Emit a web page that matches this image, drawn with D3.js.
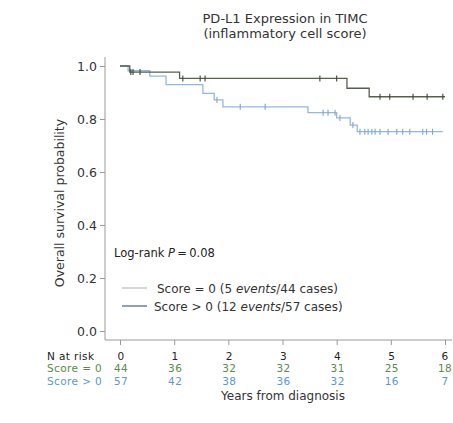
<!DOCTYPE html>
<html>
<head>
<meta charset="utf-8">
<script src="https://cdn.jsdelivr.net/npm/d3@7"></script>
<style>
  html, body { margin: 0; padding: 0; background: #fff; }
  svg { display: block; font-family: "DejaVu Sans", "Liberation Sans", Arial, sans-serif; }
</style>
</head>
<body>
<svg id="chart" width="453" height="423"></svg>
<script>
// Kaplan-Meier survival by PD-L1 inflammatory cell score
const years = [0, 1, 2, 3, 4, 5, 6];
const yTicks = [0, 0.2, 0.4, 0.6, 0.8, 1.0];

// Score = 0: step times and survival after each step
const timesZero = [0, 0.18, 1.10, 4.19, 4.60, 6.0];
const survZero  = [1, 0.977, 0.953, 0.916, 0.884, 0.884];
const censorZero = [0.20, 0.24, 0.37, 1.16, 1.48, 1.57, 3.69, 4.00, 4.80, 4.98, 5.41, 5.67, 5.96];

// Score > 0
const timesPos = [0, 0.15, 0.55, 0.85, 1.53, 1.74, 1.90, 3.47, 4.00, 4.25, 4.38, 5.96];
const survPos  = [1, 0.982, 0.962, 0.930, 0.897, 0.872, 0.846, 0.824, 0.804, 0.777, 0.752, 0.752];
const censorPos = [1.79, 2.22, 2.68, 3.75, 3.84, 3.97, 4.06, 4.30, 4.43, 4.52, 4.58, 4.65, 4.71,
                   4.80, 4.95, 5.11, 5.22, 5.35, 5.59, 5.66, 5.77];

// Numbers at risk
const riskZero = [44, 36, 32, 32, 31, 25, 18];
const riskPos  = [57, 42, 38, 36, 32, 16, 7];

const colZero = "#56604f";
const colPos = "#93b8de";
const colZeroText = "#5c8a4c";
const colPosText = "#5a97d2";
const textCol = "#333";

const svg = d3.select("#chart");
const x = d3.scaleLinear().domain([0, 6]).range([120, 445]);
const y = d3.scaleLinear().domain([0, 1]).range([331, 66]);

// Title
svg.append("text").attr("x", 285).attr("y", 23).attr("text-anchor", "middle")
  .attr("font-size", 13).attr("fill", textCol).text("PD-L1 Expression in TIMC");
svg.append("text").attr("x", 285).attr("y", 38).attr("text-anchor", "middle")
  .attr("font-size", 13).attr("fill", textCol).text("(inflammatory cell score)");

// Axes
const axisCol = "#9a9a9a";
const yAxis = svg.append("g").attr("transform", "translate(105,0)")
  .call(d3.axisLeft(y).tickValues(yTicks).tickFormat(d3.format(".1f")).tickSize(5).tickSizeOuter(0));
yAxis.select(".domain").attr("d", "M0,57V340").attr("stroke", axisCol);
yAxis.selectAll(".tick line").attr("stroke", axisCol);
yAxis.selectAll(".tick text").attr("font-size", 12.5).attr("fill", textCol)
  .attr("font-family", "DejaVu Sans, sans-serif").attr("x", -8);

const xAxis = svg.append("g").attr("transform", "translate(0,340)")
  .call(d3.axisBottom(x).tickValues(years).tickFormat("").tickSize(5).tickSizeOuter(0));
xAxis.select(".domain").attr("d", "M105,0H452").attr("stroke", axisCol);
xAxis.selectAll(".tick line").attr("stroke", axisCol);

// Y axis title
svg.append("text").attr("transform", "translate(64,203) rotate(-90)")
  .attr("text-anchor", "middle").attr("font-size", 12.5).attr("fill", textCol)
  .text("Overall survival probability");

// Survival curves
const line = d3.line().curve(d3.curveStepAfter).x(d => x(d[0])).y(d => y(d[1]));
function stepAt(times, surv, t) {
  let s = surv[0];
  for (let i = 0; i < times.length; i++) if (times[i] <= t) s = surv[i];
  return s;
}
function drawCurve(times, surv, censors, col, tickCol) {
  svg.append("path").datum(times.map((t, i) => [t, surv[i]]))
    .attr("d", line).attr("fill", "none").attr("stroke", col).attr("stroke-width", 1.3);
  svg.append("g").selectAll("line").data(censors).join("line")
    .attr("x1", d => x(d)).attr("x2", d => x(d))
    .attr("y1", d => y(stepAt(times, surv, d)) - 3)
    .attr("y2", d => y(stepAt(times, surv, d)) + 3)
    .attr("stroke", tickCol).attr("stroke-width", 1.1);
}
drawCurve(timesPos, survPos, censorPos, colPos, "#7ea6d2");
drawCurve(timesZero, survZero, censorZero, colZero, "#3f473c");

// Log-rank annotation
const lr = svg.append("text").attr("x", 114).attr("y", 257).attr("font-size", 11.5).attr("fill", "#222");
lr.append("tspan").text("Log-rank ");
lr.append("tspan").attr("font-style", "italic").text("P");
lr.append("tspan").text("\u2009=\u20090.08");

// Legend
const legend = [
  { label: "Score = 0", n: "(5 ", rest: "/44 cases)", col: "#b5c0b0" },
  { label: "Score > 0", n: "(12 ", rest: "/57 cases)", col: "#4a5e86" }
];
legend.forEach((d, i) => {
  const ly = 288 + i * 18;
  svg.append("line").attr("x1", 122).attr("x2", 147).attr("y1", ly).attr("y2", ly)
    .attr("stroke", d.col).attr("stroke-width", 1.2);
  const t = svg.append("text").attr("x", i === 0 ? 157 : 154).attr("y", ly + 4.5)
    .attr("font-size", 12).attr("fill", textCol);
  t.append("tspan").text(d.label + " " + d.n);
  t.append("tspan").attr("font-style", "italic").text("events");
  t.append("tspan").text(d.rest);
});

// Risk table
const fs = 10.5;
const ls = 0.4;
const rowY = [359.5, 372, 384.5];
const rowText = (label, yy, col) => svg.append("text").attr("x", 47).attr("y", yy)
  .attr("font-size", fs).attr("letter-spacing", ls).attr("fill", col).text(label);
rowText("N at risk", rowY[0], "#222");
rowText("Score = 0", rowY[1], colZeroText);
rowText("Score > 0", rowY[2], colPosText);
const rowNums = (vals, yy, col) => svg.append("g").selectAll("text").data(vals).join("text")
  .attr("x", (d, i) => x(years[i]) + (i === years.length - 1 ? 0 : 1)).attr("y", yy)
  .attr("text-anchor", "middle").attr("font-size", fs).attr("letter-spacing", ls)
  .attr("fill", col).text(d => d);
rowNums(years, rowY[0], "#222");
rowNums(riskZero, rowY[1], colZeroText);
rowNums(riskPos, rowY[2], colPosText);

// X axis title
svg.append("text").attr("x", 283).attr("y", 400).attr("text-anchor", "middle")
  .attr("font-size", 12).attr("fill", textCol).text("Years from diagnosis");
</script>
</body>
</html>
